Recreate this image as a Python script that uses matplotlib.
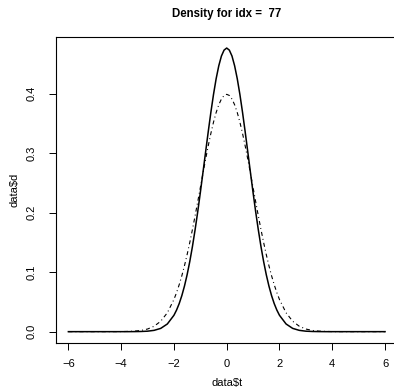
import matplotlib
matplotlib.use("Agg")
import matplotlib.pyplot as plt

plt.rcParams.update({
    "font.family": ["Liberation Sans", "DejaVu Sans"],
    "font.size": 8,
    "lines.scale_dashes": False,
})

# values (density curves)
t_vals = [-6.0, -5.0, -4.5, -4.0, -3.75, -3.5, -3.25, -3.0, -2.75, -2.5, -2.25,
          -2.0, -1.9, -1.8, -1.7, -1.6, -1.5, -1.4, -1.3, -1.2, -1.1,
          -1.0, -0.9, -0.8, -0.7, -0.6, -0.5, -0.4, -0.3, -0.2, -0.1,
          0.0, 0.1, 0.2, 0.3, 0.4, 0.5, 0.6, 0.7, 0.8, 0.9,
          1.0, 1.1, 1.2, 1.3, 1.4, 1.5, 1.6, 1.7, 1.8, 1.9,
          2.0, 2.25, 2.5, 2.75, 3.0, 3.25, 3.5, 3.75, 4.0, 4.5, 5.0, 6.0]

d_est = [0.0, 0.0, 0.0, 0.0, 0.0, 0.0001, 0.0003, 0.0008, 0.0022, 0.0055, 0.0129,
         0.0275, 0.0363, 0.0472, 0.0606, 0.0767, 0.0957, 0.1177, 0.1427, 0.1706, 0.2009,
         0.2335, 0.2674, 0.3018, 0.3359, 0.3686, 0.3987, 0.4252, 0.4469, 0.4633, 0.4732,
         0.4767, 0.4732, 0.4633, 0.4469, 0.4252, 0.3987, 0.3686, 0.3359, 0.3018, 0.2674,
         0.2335, 0.2009, 0.1706, 0.1427, 0.1177, 0.0957, 0.0767, 0.0606, 0.0472, 0.0363,
         0.0275, 0.0129, 0.0055, 0.0022, 0.0008, 0.0003, 0.0001, 0.0, 0.0, 0.0, 0.0, 0.0]

d_ref = [0.0, 0.0, 0.0, 0.0001, 0.0004, 0.0009, 0.0020, 0.0044, 0.0091, 0.0175, 0.0317,
         0.0540, 0.0656, 0.0790, 0.0940, 0.1109, 0.1295, 0.1497, 0.1714, 0.1942, 0.2179,
         0.2420, 0.2661, 0.2897, 0.3123, 0.3332, 0.3521, 0.3683, 0.3814, 0.3910, 0.3970,
         0.3989, 0.3970, 0.3910, 0.3814, 0.3683, 0.3521, 0.3332, 0.3123, 0.2897, 0.2661,
         0.2420, 0.2179, 0.1942, 0.1714, 0.1497, 0.1295, 0.1109, 0.0940, 0.0790, 0.0656,
         0.0540, 0.0317, 0.0175, 0.0091, 0.0044, 0.0020, 0.0009, 0.0004, 0.0001, 0.0, 0.0, 0.0]

x_ticks = [-6, -4, -2, 0, 2, 4, 6]
y_ticks = [0.0, 0.1, 0.2, 0.3, 0.4]

W, H = 394, 390
fig = plt.figure(figsize=(W / 100, H / 100), dpi=100)
# plot region runs off the right edge, as in the reference
ax = fig.add_axes([55.7 / W, 1 - 343 / H, 342 / W, 306.3 / H])

ax.plot(t_vals, d_est, color="black", lw=1.1)
ax.plot(t_vals, d_ref, color="black", lw=0.8, linestyle=(0, (2.9, 2.2, 0.7, 2.2)))

# R style 4% padding
xr = max(t_vals) - min(t_vals)
ax.set_xlim(min(t_vals) - 0.04 * xr, max(t_vals) + 0.04 * xr)
yr = max(d_est) - 0
ax.set_ylim(-0.04 * yr, max(d_est) + 0.04 * yr)

ax.set_xticks(x_ticks)
ax.set_xticklabels([str(v).replace("-", "\u2212") for v in x_ticks])
ax.set_yticks(y_ticks)
ax.set_yticklabels(["%.1f" % v for v in y_ticks], rotation=90, va="center")
ax.tick_params(direction="out", length=5, width=0.7, pad=6.5)
ax.tick_params(axis="y", pad=9)
for s in ax.spines.values():
    s.set_linewidth(0.8)

ax.set_xlabel("data$t")
ax.set_ylabel("data$d")
ax.xaxis.set_label_coords((227 - 55.7) / 342, (343 - 383) / 306.3)
ax.yaxis.set_label_coords((15 - 55.7) / 342, (343 - 190) / 306.3)
ax.xaxis.label.set_va("center")
ax.yaxis.label.set_va("center")
fig.text(227 / W, 1 - 14 / H, "Density for idx =  77", ha="center", va="center",
         fontweight="bold", fontsize=8.3)

fig.savefig("out.png", dpi=100)
